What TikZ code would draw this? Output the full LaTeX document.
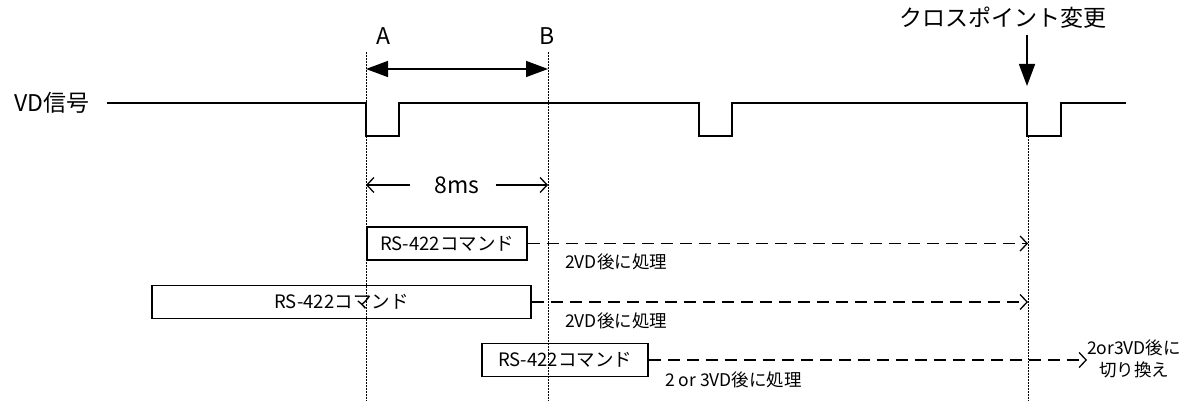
\documentclass[tikz,border=0pt]{standalone}
\usepackage{fontspec}
\setmainfont{Noto Sans CJK JP}
\usepackage{tikz}
\usetikzlibrary{arrows, arrows.meta, positioning}
\tikzstyle{sig} = [line width=1.5pt, line join=miter]
\tikzstyle{guide} = [line width=1pt, dash pattern=on 1.6pt off 1.4pt]
\tikzstyle{cmdbox} = [rectangle, draw=black, line width=1.5pt, minimum height=33pt, inner sep=0pt, text centered, font=\fontsize{18.5}{20}\selectfont]
\tikzstyle{later} = [line width=1.3pt, dash pattern=on 12pt off 7pt, -{Straight Barb[length=7pt,width=15pt,line width=1.3pt]}]
\tikzstyle{bigarrow} = [line width=1.5pt, -{Triangle[length=22pt,width=16pt]}]
\tikzstyle{small} = [font=\fontsize{17.5}{19}\selectfont, inner sep=0pt]
\tikzstyle{big} = [font=\fontsize{23}{26}\selectfont, inner sep=0pt]

\begin{document}
\begin{tikzpicture}[x=1pt, y=-1pt]
\useasboundingbox (0,0) rectangle (1190,401);

% labels on top
\node (vd) [big] at (52,103) {VD信号};
\node (lblA) [big] at (383,36) {A};
\node (lblB) [big] at (547,36) {B};
\node (cross) [big] at (1003,18) {クロスポイント変更};

% guide lines
\coordinate (atop) at (366,52);
\coordinate (abot) at (366,401);
\coordinate (btop) at (548,52);
\coordinate (bbot) at (548,401);
\coordinate (ctop) at (1028,136);
\coordinate (cbot) at (1028,401);
\draw [guide] (atop) -- (abot);
\draw [guide] (btop) -- (bbot);
\draw [guide] (ctop) -- (cbot);

% VD signal
\draw [sig] (107,103) -- (366,103) -- (366,136) -- (399,136) -- (399,103)
  -- (699,103) -- (699,136) -- (732,136) -- (732,103)
  -- (1027,103) -- (1027,136) -- (1061,136) -- (1061,103) -- (1126,103);

% A-B interval
\coordinate (ab1) at (366,69);
\coordinate (ab2) at (548,69);
\draw [line width=1.5pt, {Triangle[length=22pt,width=16pt]}-{Triangle[length=22pt,width=16pt]}] (ab1) -- (ab2);

\coordinate (xtop) at (1027,35);
\coordinate (xtip) at (1027,86);
\draw [bigarrow] (xtop) -- (xtip);

% 8ms
\node (ms) [big] at (457,185) {8ms};
\draw [line width=1.3pt, -{Straight Barb[length=7pt,width=15pt,line width=1.3pt]}] (ms.west) ++(-24pt,0) coordinate (m1) -- (366,185);
\draw [line width=1.3pt, -{Straight Barb[length=7pt,width=15pt,line width=1.3pt]}] (ms.east) ++(16pt,0) coordinate (m2) -- (548,185);

% commands
\node (cmd1) [cmdbox, minimum width=160pt] at (447,243.5) {RS-422コマンド};
\node (cmd2) [cmdbox, minimum width=379pt] at (341.5,302) {RS-422コマンド};
\node (cmd3) [cmdbox, minimum width=166pt] at (565,360) {RS-422コマンド};

\coordinate (end1) at (1028,243.5);
\coordinate (end2) at (1028,302);
\coordinate (end3) at (1087,360);
\draw [later] (cmd1.east) -- (end1);
\draw [later] (cmd2.east) -- (end2);
\draw [later] (cmd3.east) -- (end3);

\node (note1) [small, anchor=west] at (565,262) {2VD後に処理};
\node (note2) [small, anchor=west] at (565,321) {2VD後に処理};
\node (note3) [small, anchor=west] at (665,380) {2 or 3VD後に処理};
\node (swap) [small, align=center, font=\fontsize{17.5}{22}\selectfont] at (1134,359) {2or3VD後に\\切り換え};

\end{tikzpicture}
\end{document}
